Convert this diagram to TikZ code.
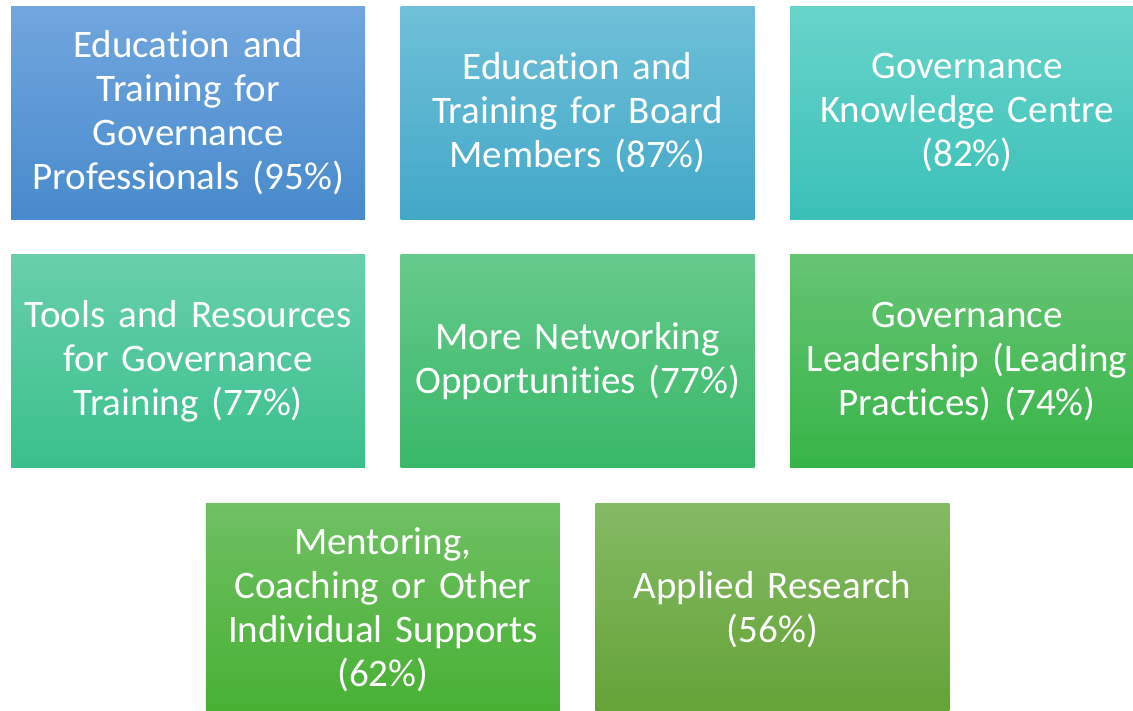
\documentclass[tikz,border=0pt]{standalone}
\usepackage{fontspec}
\setmainfont{Carlito}[Ligatures=NoCommon,WordSpace=0.8]
\usepackage{xcolor}
\usetikzlibrary{positioning}

\definecolor{blueTop}{RGB}{113,166,222}
\definecolor{blueBot}{RGB}{72,138,204}
\definecolor{skyTop}{RGB}{111,192,216}
\definecolor{skyBot}{RGB}{66,168,200}
\definecolor{tealTop}{RGB}{104,212,202}
\definecolor{tealBot}{RGB}{58,192,184}
\definecolor{mintTop}{RGB}{104,207,170}
\definecolor{mintBot}{RGB}{58,192,140}
\definecolor{jadeTop}{RGB}{102,202,140}
\definecolor{jadeBot}{RGB}{56,184,104}
\definecolor{greenTop}{RGB}{102,196,116}
\definecolor{greenBot}{RGB}{54,180,70}
\definecolor{leafTop}{RGB}{112,192,100}
\definecolor{leafBot}{RGB}{70,176,50}
\definecolor{oliveTop}{RGB}{132,186,100}
\definecolor{oliveBot}{RGB}{100,162,54}

\begin{document}
\begin{tikzpicture}[
  node distance=35pt,
  every node/.style={rectangle,minimum width=354pt,minimum height=213pt,
    inner sep=0pt,text width=350pt,align=center,text=white,
    font=\fontsize{39}{44}\selectfont,shading=axis,shading angle=0},
  need/.style n args={2}{top color=#1,bottom color=#2}
]
  \useasboundingbox (0,0) rectangle (1133pt,-710pt);
  \node[need={blueTop}{blueBot},anchor=north west] (b1) at (11pt,-6pt)
    {Education and\\Training for\\Governance\\Professionals (95\%)};
  \node[need={skyTop}{skyBot},right=of b1] (b2)
    {Education and\\Training for Board\\Members (87\%)};
  \node[need={tealTop}{tealBot},right=of b2] (b3)
    {Governance\\Knowledge Centre\\(82\%)};
  \node[need={mintTop}{mintBot},below=of b1] (b4)
    {Tools and Resources\\for Governance\\Training (77\%)};
  \node[need={jadeTop}{jadeBot},below=of b2] (b5)
    {More Networking\\Opportunities (77\%)};
  \node[need={greenTop}{greenBot},below=of b3] (b6)
    {Governance\\Leadership (Leading\\Practices) (74\%)};
  \node[need={leafTop}{leafBot},below left=35pt and 17.5pt of b5.south] (b7)
    {Mentoring,\\Coaching or Other\\Individual Supports\\(62\%)};
  \node[need={oliveTop}{oliveBot},below right=35pt and 17.5pt of b5.south] (b8)
    {Applied Research\\(56\%)};
\end{tikzpicture}
\end{document}
